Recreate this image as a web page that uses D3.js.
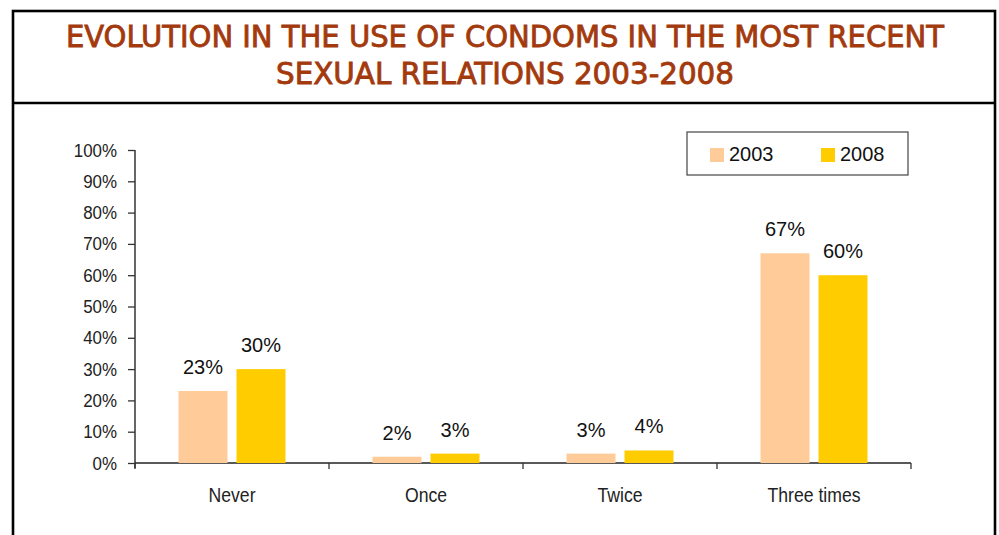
<!DOCTYPE html>
<html>
<head>
<meta charset="utf-8">
<script src="https://cdn.jsdelivr.net/npm/d3@7"></script>
<style>
  html, body { margin: 0; padding: 0; background: #fff; }
  svg { display: block; }
</style>
</head>
<body>
<svg id="chart" width="999" height="535"></svg>
<script>
// Chart data
const titleLines = ["EVOLUTION IN THE USE OF CONDOMS IN THE MOST RECENT", "SEXUAL RELATIONS 2003-2008"];
const categories = ["Never", "Once", "Twice", "Three times"];
const seriesNames = ["2003", "2008"];
const values2003 = [23, 2, 3, 67];
const values2008 = [30, 3, 4, 60];
const yTicks = [0, 10, 20, 30, 40, 50, 60, 70, 80, 90, 100];
const colors = ["#FFCC99", "#FFCC00"];

const seriesValues = [values2003, values2008];

const svg = d3.select("#chart");
const arial = "'Liberation Sans', Arial, sans-serif";

// Outer frame and title panel
svg.append("rect")
  .attr("x", 13).attr("y", 11)
  .attr("width", 982).attr("height", 540)
  .attr("fill", "none").attr("stroke", "#000").attr("stroke-width", 2.6);
svg.append("line")
  .attr("x1", 13).attr("x2", 995).attr("y1", 103).attr("y2", 103)
  .attr("stroke", "#000").attr("stroke-width", 2.6);

const titleWidths = [878, 458];
const titleBaselines = [47, 84];
titleLines.forEach((t, i) => {
  svg.append("text")
    .attr("x", 505).attr("y", titleBaselines[i])
    .attr("text-anchor", "middle")
    .attr("textLength", titleWidths[i])
    .attr("lengthAdjust", "spacingAndGlyphs")
    .attr("font-family", "'DejaVu Sans Condensed', 'DejaVu Sans', sans-serif")
    .attr("font-size", 30)
    .attr("fill", "#A33A0E")
    .attr("stroke", "#A33A0E")
    .attr("stroke-width", 0.8)
    .text(t);
});

// Plot area
const plotLeft = 135, plotRight = 911, plotTop = 150, plotBottom = 463;

const y = d3.scaleLinear().domain([0, 100]).range([plotBottom, plotTop]);
const x0 = d3.scaleBand().domain(categories).range([plotLeft, plotRight]).padding(0);
const groupInset = 43.5;
const x1 = d3.scaleBand().domain(seriesNames)
  .range([groupInset, x0.bandwidth() - groupInset])
  .paddingInner(0.155).paddingOuter(0);

// Y axis (labels in a horizontally compressed sans face)
const tickSx = 0.89;
const yAxis = d3.axisLeft(y).tickValues(yTicks).tickFormat(d => d + "%")
  .tickSizeInner(7).tickSizeOuter(0).tickPadding(11);
const gy = svg.append("g").attr("transform", `translate(${plotLeft},0)`).call(yAxis);
gy.select(".domain").attr("stroke", "#333").attr("stroke-width", 1.5)
  .attr("d", `M0,${plotTop}V${plotBottom + 5}`);
gy.selectAll(".tick line").attr("stroke", "#333").attr("stroke-width", 1.3);
gy.selectAll(".tick text")
  .attr("font-family", arial).attr("font-size", 19).attr("fill", "#222")
  .attr("x", -18 / tickSx)
  .attr("transform", `scale(${tickSx},1)`);

// X axis: baseline with ticks at category boundaries
svg.append("line")
  .attr("x1", plotLeft).attr("x2", plotRight).attr("y1", plotBottom).attr("y2", plotBottom)
  .attr("stroke", "#222").attr("stroke-width", 1.5);
const boundaries = categories.map(c => x0(c)).concat([x0(categories[categories.length - 1]) + x0.bandwidth()]);
svg.append("g").selectAll("line").data(boundaries).join("line")
  .attr("x1", d => d).attr("x2", d => d)
  .attr("y1", plotBottom).attr("y2", plotBottom + 6)
  .attr("stroke", "#333").attr("stroke-width", 1.3);

const catSx = 0.84;
svg.append("g").selectAll("text").data(categories).join("text")
  .attr("transform", d => `translate(${x0(d) + x0.bandwidth() / 2},502) scale(${catSx},1)`)
  .attr("text-anchor", "middle")
  .attr("font-family", arial).attr("font-size", 21).attr("fill", "#222")
  .text(d => d);

// Bars and value labels
const groups = svg.append("g").selectAll("g").data(categories).join("g")
  .attr("transform", d => `translate(${x0(d)},0)`);

groups.selectAll("rect")
  .data((d, ci) => seriesNames.map((s, si) => ({ s, v: seriesValues[si][ci], color: colors[si] })))
  .join("rect")
  .attr("x", d => x1(d.s))
  .attr("width", x1.bandwidth())
  .attr("y", d => y(d.v))
  .attr("height", d => plotBottom - y(d.v))
  .attr("fill", d => d.color);

groups.selectAll("text")
  .data((d, ci) => seriesNames.map((s, si) => ({ s, v: seriesValues[si][ci] })))
  .join("text")
  .attr("x", d => x1(d.s) + x1.bandwidth() / 2)
  .attr("y", d => y(d.v) - 17)
  .attr("text-anchor", "middle")
  .attr("font-family", arial).attr("font-size", 20).attr("fill", "#111")
  .text(d => d.v + "%");

// Legend
const legend = svg.append("g");
legend.append("rect")
  .attr("x", 687).attr("y", 132).attr("width", 221).attr("height", 43)
  .attr("fill", "#fff").attr("stroke", "#444").attr("stroke-width", 1.2);
const legendX = [710, 821];
seriesNames.forEach((s, i) => {
  legend.append("rect")
    .attr("x", legendX[i]).attr("y", 148).attr("width", 14).attr("height", 14)
    .attr("fill", colors[i]);
  legend.append("text")
    .attr("x", legendX[i] + 19).attr("y", 161)
    .attr("font-family", arial).attr("font-size", 20).attr("fill", "#111")
    .text(s);
});
</script>
</body>
</html>
